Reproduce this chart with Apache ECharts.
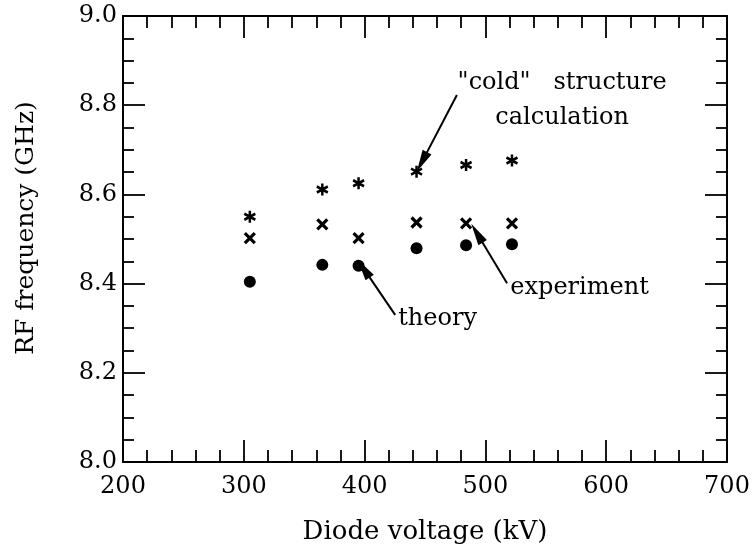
<!DOCTYPE html>
<html>
<head>
<meta charset="utf-8">
<script src="https://cdn.jsdelivr.net/npm/echarts@6/dist/echarts.min.js"></script>
<style>
    html, body { margin: 0; padding: 0; background: #fff; }
    #main { width: 753px; height: 555px; }
</style>
</head>
<body>
<div id="main"></div>
<script>
var voltage = [305, 365, 395, 443, 484, 522];
var coldCalc = [8.550, 8.611, 8.625, 8.651, 8.666, 8.676];
var experiment = [8.502, 8.533, 8.502, 8.537, 8.535, 8.535];
var theory = [8.404, 8.442, 8.440, 8.479, 8.486, 8.488];

var xTicks = ['200', '300', '400', '500', '600', '700'];
var yTicks = ['8.0', '8.2', '8.4', '8.6', '8.8', '9.0'];

var FONT = 'DejaVu Serif';
var INK = '#000';

function pairs(ys) {
    var out = [];
    for (var i = 0; i < voltage.length; i++) {
        out.push([voltage[i], ys[i]]);
    }
    return out;
}

// one axis set: visible = labels shown, otherwise mirror copy on the opposite side
function xAxisDef(pos, visible) {
    return {
        type: 'value', position: pos, min: 200, max: 700, interval: 100,
        axisLine: { show: true, lineStyle: { color: INK, width: 2 } },
        axisTick: { show: true, inside: true, length: 22, lineStyle: { color: INK, width: 1.8 } },
        minorTick: { show: true, splitNumber: 5, length: 12, lineStyle: { color: INK, width: 1.8 } },
        splitLine: { show: false },
        axisLabel: {
            show: visible, margin: 13, color: INK, fontFamily: FONT, fontSize: 24,
            formatter: function (v) { return xTicks[Math.round((v - 200) / 100)]; }
        },
        name: visible ? 'Diode voltage (kV)' : '',
        nameLocation: 'middle', nameGap: 57,
        nameTextStyle: { color: INK, fontFamily: FONT, fontSize: 26 }
    };
}

function yAxisDef(pos, visible) {
    return {
        type: 'value', position: pos, min: 8.0, max: 9.0, interval: 0.2,
        axisLine: { show: true, lineStyle: { color: INK, width: 2 } },
        axisTick: { show: true, inside: true, length: 22, lineStyle: { color: INK, width: 1.8 } },
        minorTick: { show: true, splitNumber: 4, length: 11, lineStyle: { color: INK, width: 1.8 } },
        splitLine: { show: false },
        axisLabel: {
            show: visible, margin: 6, color: INK, fontFamily: FONT, fontSize: 24,
            formatter: function (v) { return yTicks[Math.round((v - 8.0) / 0.2)]; }
        },
        name: visible ? 'RF frequency (GHz)' : '',
        nameLocation: 'middle', nameGap: 84,
        nameTextStyle: { color: INK, fontFamily: FONT, fontSize: 25, padding: [0, 0, 0, 22] }
    };
}

function note(coord, text, align) {
    return {
        coord: coord, symbolSize: 0,
        label: {
            show: true, position: 'inside', formatter: text, align: align,
            verticalAlign: 'middle', lineHeight: 35,
            color: INK, fontFamily: FONT, fontSize: 24
        }
    };
}

var arrowLines = [
    [{ coord: [476.4, 8.823] }, { coord: [447.5, 8.673] }],
    [{ coord: [517.9, 8.401] }, { coord: [493.0, 8.513] }],
    [{ coord: [425.3, 8.330] }, { coord: [399.1, 8.434] }]
];

var chart = echarts.init(document.getElementById('main'));
chart.setOption({
    animation: false,
    backgroundColor: '#fff',
    grid: { left: 123, right: 26, top: 16, bottom: 93, containLabel: false },
    xAxis: [xAxisDef('bottom', true), xAxisDef('top', false)],
    yAxis: [yAxisDef('left', true), yAxisDef('right', false)],
    series: [
        {
            name: 'cold', type: 'scatter', data: pairs(coldCalc),
            symbol: 'path://M0,-10L0,10M-8.66,-5L8.66,5M-8.66,5L8.66,-5',
            symbolSize: [11, 12],
            itemStyle: { color: INK, borderColor: INK, borderWidth: 2.6, opacity: 1 },
            markLine: {
                silent: true, symbol: ['none', 'triangle'], symbolSize: [10, 22],
                lineStyle: { color: INK, width: 2, type: 'solid', opacity: 1 },
                label: { show: false },
                data: arrowLines
            },
            markPoint: {
                silent: true,
                data: [
                    note([563.5, 8.811], '"cold"   structure\ncalculation', 'center'),
                    note([520.6, 8.391], 'experiment', 'left'),
                    note([427.8, 8.322], 'theory', 'left')
                ]
            }
        },
        {
            name: 'experiment', type: 'scatter', data: pairs(experiment),
            symbol: 'path://M0,0L10,10M0,10L10,0',
            symbolSize: 10,
            itemStyle: { color: INK, borderColor: INK, borderWidth: 3.2, opacity: 1 }
        },
        {
            name: 'theory', type: 'scatter', data: pairs(theory),
            symbol: 'circle', symbolSize: 12,
            itemStyle: { color: INK, opacity: 1 }
        }
    ]
});
</script>
</body>
</html>
